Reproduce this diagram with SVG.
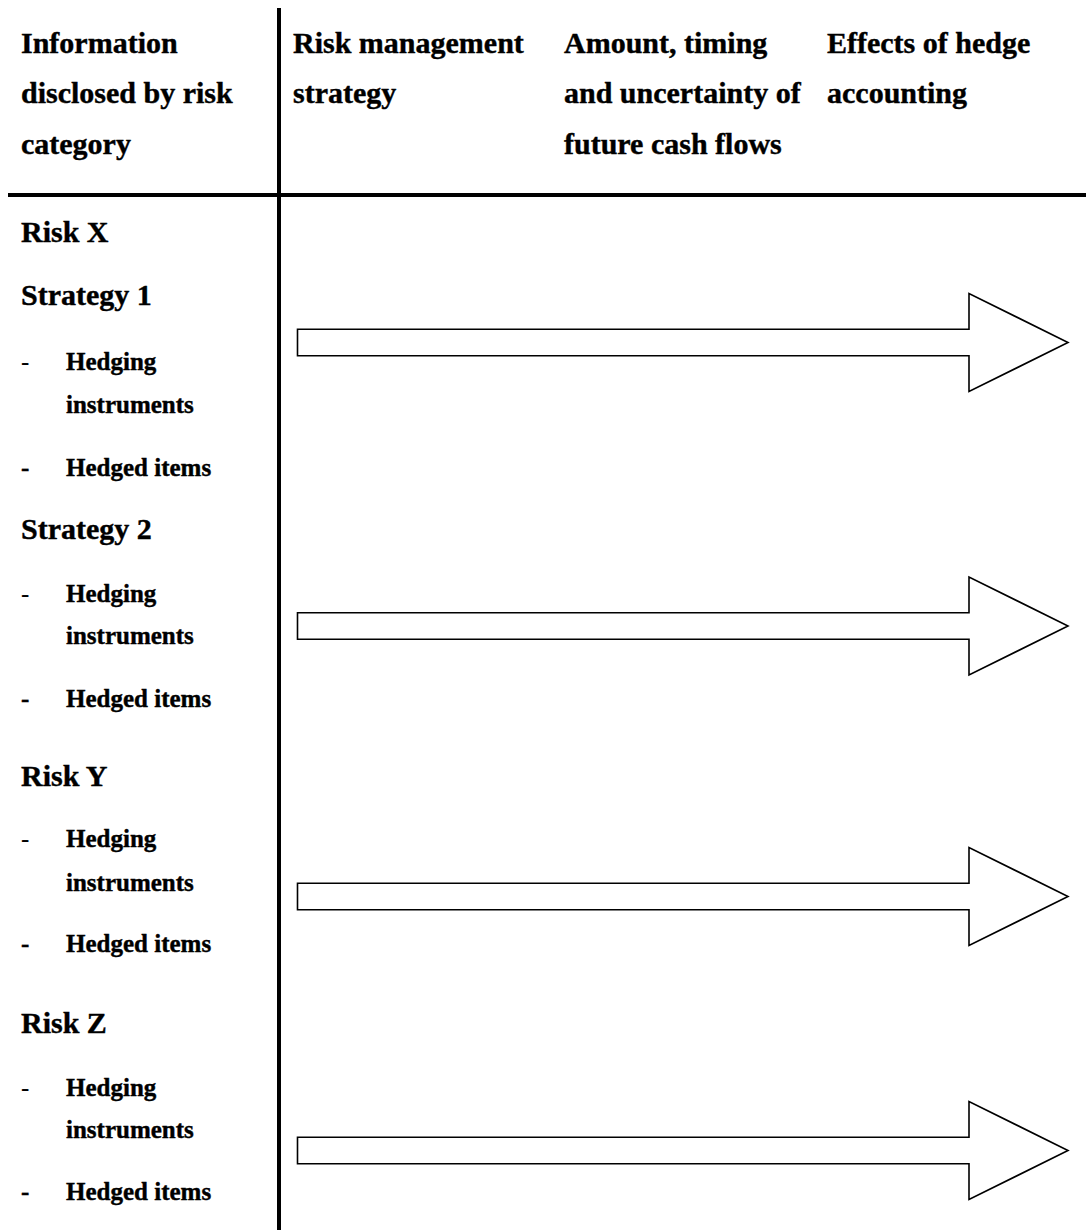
<svg xmlns="http://www.w3.org/2000/svg" width="1086" height="1230" viewBox="0 0 1086 1230">
<style>
text{font-family:"Liberation Serif","Times New Roman",serif;font-weight:bold;fill:#000;stroke:#000;stroke-width:0.4}
.h{font-size:30px}
.m{font-size:30px}
.s{font-size:25px}
.d{font-size:25px;font-weight:normal;stroke-width:0}
.rule{stroke:#000;stroke-width:4;fill:none}
.arrow{fill:#fff;stroke:#000;stroke-width:1.6;stroke-linejoin:miter}
</style>
<rect width="1086" height="1230" fill="#fff"/>
<g id="grid">
<line class="rule" x1="8" y1="195" x2="1086" y2="195"/>
<line class="rule" x1="279" y1="8" x2="279" y2="1230"/>
</g>
<g id="header-col1">
<text class="h" x="21" y="53">Information</text>
<text class="h" x="21" y="103">disclosed by risk</text>
<text class="h" x="21" y="154">category</text>
</g>
<g id="header-col2">
<text class="h" x="293" y="53">Risk management</text>
<text class="h" x="293" y="103">strategy</text>
</g>
<g id="header-col3">
<text class="h" x="564" y="53">Amount, timing</text>
<text class="h" x="564" y="103">and uncertainty of</text>
<text class="h" x="564" y="154">future cash flows</text>
</g>
<g id="header-col4">
<text class="h" x="827" y="53">Effects of hedge</text>
<text class="h" x="827" y="103">accounting</text>
</g>
<g id="risk-x">
<text class="m" x="21" y="242">Risk X</text>
</g>
<g id="strategy-1">
<text class="m" x="21" y="305">Strategy 1</text>
<text class="d" x="21" y="370">-</text>
<text class="s" x="66" y="370">Hedging</text>
<text class="s" x="66" y="413">instruments</text>
<text class="s" x="21" y="476">-</text>
<text class="s" x="66" y="476">Hedged items</text>
</g>
<g id="strategy-2">
<text class="m" x="21" y="539">Strategy 2</text>
<text class="d" x="21" y="602">-</text>
<text class="s" x="66" y="602">Hedging</text>
<text class="s" x="66" y="644">instruments</text>
<text class="s" x="21" y="707">-</text>
<text class="s" x="66" y="707">Hedged items</text>
</g>
<g id="risk-y">
<text class="m" x="21" y="786">Risk Y</text>
<text class="d" x="21" y="847">-</text>
<text class="s" x="66" y="847">Hedging</text>
<text class="s" x="66" y="891">instruments</text>
<text class="s" x="21" y="952">-</text>
<text class="s" x="66" y="952">Hedged items</text>
</g>
<g id="risk-z">
<text class="m" x="21" y="1033">Risk Z</text>
<text class="d" x="21" y="1096">-</text>
<text class="s" x="66" y="1096">Hedging</text>
<text class="s" x="66" y="1138">instruments</text>
<text class="s" x="21" y="1200">-</text>
<text class="s" x="66" y="1200">Hedged items</text>
</g>
<g id="connectors">
<polygon class="arrow" points="297.5,329.2 969,329.2 969,293.5 1068,342.5 969,391.5 969,355.8 297.5,355.8"/>
<polygon class="arrow" points="297.5,612.7 969,612.7 969,577 1068,626 969,675 969,639.3 297.5,639.3"/>
<polygon class="arrow" points="297.5,883.2 969,883.2 969,847.5 1068,896.5 969,945.5 969,909.8 297.5,909.8"/>
<polygon class="arrow" points="297.5,1137.2 969,1137.2 969,1101.5 1068,1150.5 969,1199.5 969,1163.8 297.5,1163.8"/>
</g>
</svg>
